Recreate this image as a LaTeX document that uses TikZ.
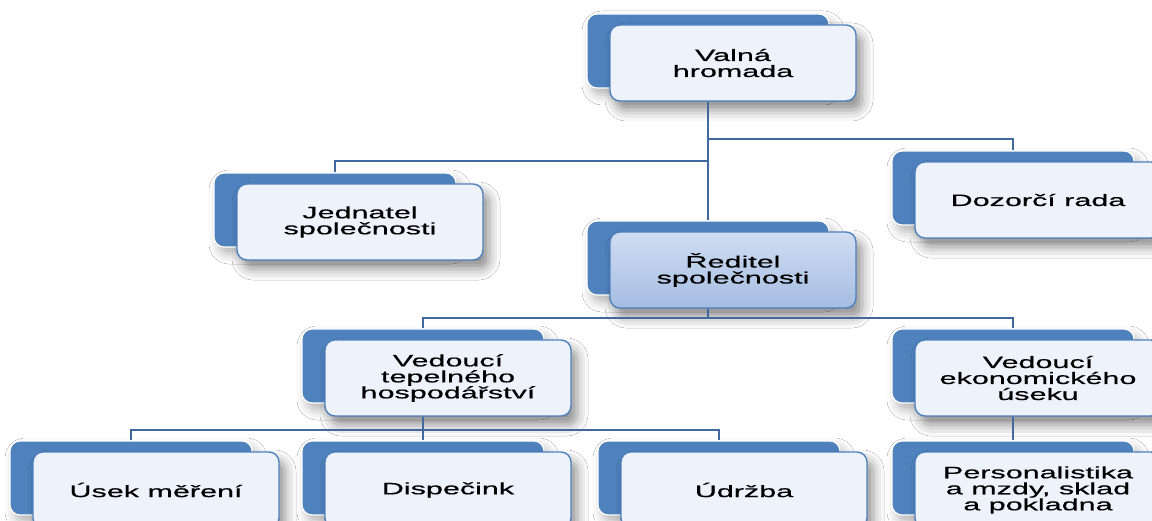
\documentclass[tikz,border=0pt]{standalone}
\usepackage{fontspec}
\setmainfont{Liberation Sans}[FakeStretch=1.85,FakeBold=0.5]
\usetikzlibrary{calc,shadows.blur}

\definecolor{orgblue}{HTML}{4F81BD}
\definecolor{orgline}{HTML}{41699F}
\definecolor{orgfill}{HTML}{EEF2FA}
\definecolor{redtop}{HTML}{D0DDF2}
\definecolor{redbot}{HTML}{A5BDE2}

\tikzset{
  backbox/.style={rectangle, rounded corners=10pt, fill=orgblue, draw=white,
    line width=1.2pt, minimum width=242pt, minimum height=74pt, inner sep=0pt,
    blur shadow={shadow xshift=5pt, shadow yshift=-7pt, shadow blur radius=10pt, shadow opacity=30}},
  frontbox/.style={rectangle, rounded corners=10pt, fill=orgfill, draw=orgblue,
    line width=1.4pt, minimum width=246pt, minimum height=76pt, inner sep=2pt,
    align=center, font=\fontsize{16.5}{16}\selectfont,
    blur shadow={shadow xshift=6pt, shadow yshift=-9pt, shadow blur radius=11pt, shadow opacity=45}},
  headbox/.style={frontbox, fill=none, top color=redtop, bottom color=redbot},
  conn/.style={draw=orgline, line width=2.4pt}
}

\begin{document}
\begin{tikzpicture}[x=1pt,y=-1pt]
  \useasboundingbox[fill=white] (0,0) rectangle (1152,521);
  % boxes
  \node[backbox] (valna-b) at (708,51) {};
  \node[frontbox] (valna) at ([shift={(25,12)}]valna-b.center) {Valná\\hromada};
  \node[backbox] (jedn-b) at (335,210) {};
  \node[frontbox] (jedn) at ([shift={(25,12)}]jedn-b.center) {Jednatel\\společnosti};
  \node[backbox] (dozor-b) at (1013,188) {};
  \node[frontbox] (dozor) at ([shift={(25,12)}]dozor-b.center) {Dozorčí rada};
  \node[backbox] (redit-b) at (708,258) {};
  \node[headbox] (redit) at ([shift={(25,12)}]redit-b.center) {Ředitel\\společnosti};
  \node[backbox] (tepl-b) at (423,366) {};
  \node[frontbox] (tepl) at ([shift={(25,12)}]tepl-b.center) {Vedoucí\\tepelného\\hospodářství};
  \node[backbox] (ekon-b) at (1013,366) {};
  \node[frontbox] (ekon) at ([shift={(25,12)}]ekon-b.center) {Vedoucí\\ekonomického\\úseku};
  \node[backbox] (usek-b) at (131,478) {};
  \node[frontbox] (usek) at ([shift={(25,12)}]usek-b.center) {Úsek měření};
  \node[backbox] (disp-b) at (423,478) {};
  \node[frontbox] (disp) at ([shift={(25,12)}]disp-b.center) {Dispečink};
  \node[backbox] (udrz-b) at (719,478) {};
  \node[frontbox] (udrz) at ([shift={(25,12)}]udrz-b.center) {Údržba};
  \node[backbox] (pers-b) at (1013,478) {};
  \node[frontbox] (pers) at ([shift={(25,12)}]pers-b.center) {Personalistika\\a mzdy, sklad\\a pokladna};
  % bus lines
  \coordinate (busdoz) at (0,139);
  \coordinate (busjed) at (0,161);
  \coordinate (busred) at (0,318);
  \coordinate (bustep) at (0,430);
  % connectors
  \draw[conn] (valna-b.south |- valna.south) -- (redit-b.north);
  \draw[conn] (valna-b.south |- busjed) -| (jedn-b.north);
  \draw[conn] (valna-b.south |- busdoz) -| (dozor-b.north);
  \draw[conn] (redit-b.south |- redit.south) -- (redit-b.south |- busred);
  \draw[conn] (tepl-b.north) |- (busred -| ekon-b.north) -- (ekon-b.north);
  \draw[conn] (tepl-b.south |- tepl.south) -- (tepl-b.south |- bustep);
  \draw[conn] (usek-b.north) |- (bustep -| udrz-b.north) -- (udrz-b.north);
  \draw[conn] (bustep -| disp-b.north) -- (disp-b.north);
  \draw[conn] (ekon-b.south |- ekon.south) -- (pers-b.north);
\end{tikzpicture}
\end{document}
